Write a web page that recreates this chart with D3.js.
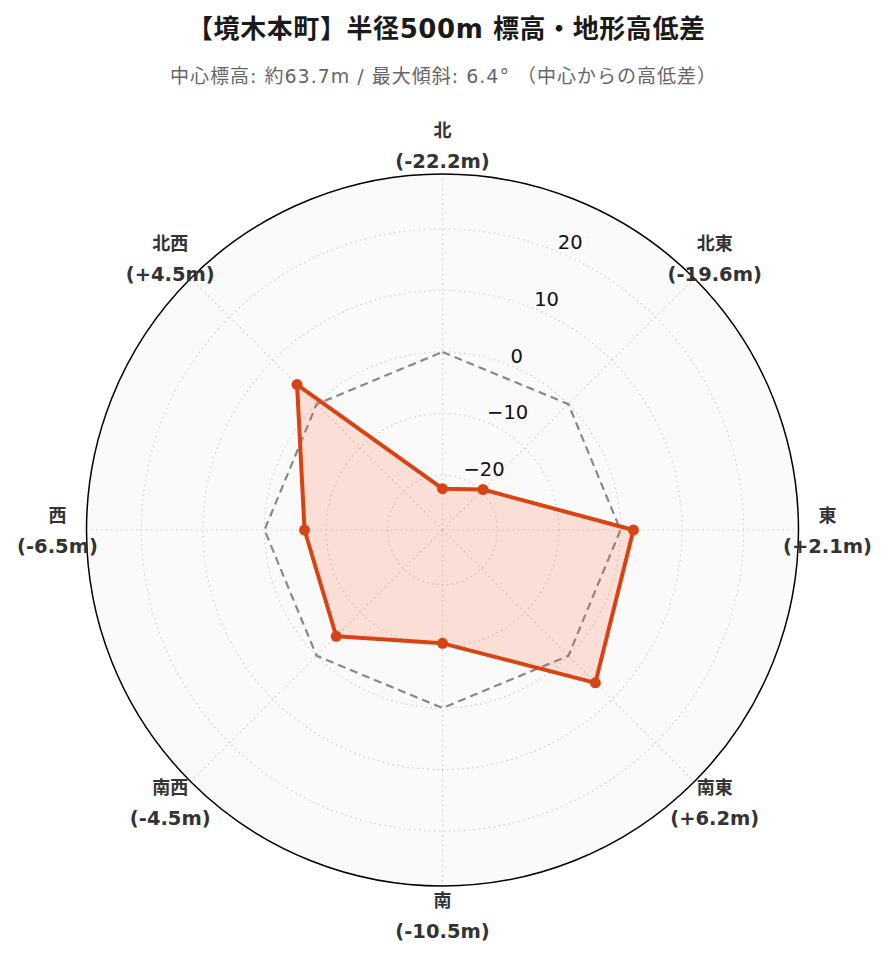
<!DOCTYPE html>
<html><head><meta charset="utf-8">
<script src="https://cdn.jsdelivr.net/npm/d3@7"></script>
<style>
html,body{margin:0;padding:0;background:#fff;}
svg{display:block;font-family:"DejaVu Sans","Noto Sans CJK JP",sans-serif;}
</style></head>
<body>
<svg id="chart" width="889" height="962"></svg>
<script>
const directions = ["北","北東","東","南東","南","南西","西","北西"];
const diffs = [-22.2, -19.6, 2.1, 6.2, -10.5, -4.5, -6.5, 4.5];
const refValues = [0, 0, 0, 0, 0, 0, 0, 0];
const radialTicks = [-20, -10, 0, 10, 20];
const radialDomain = [-28.9, 28.9];
const titleText = "【境木本町】半径500m 標高・地形高低差";
const subtitleText = "中心標高: 約63.7m / 最大傾斜: 6.4° （中心からの高低差）";

const svg = d3.select("#chart");
const cx = 442.5, cy = 530, R = 356;
const r = d3.scaleLinear().domain(radialDomain).range([0, R]);
const ang = d3.scaleLinear().domain([0, directions.length]).range([0, 2*Math.PI]);

svg.append("text").attr("x", 446).attr("y", 38).attr("text-anchor","middle")
  .attr("font-size", 26).attr("font-weight","bold").attr("fill","#1a1a1a")
  .attr("textLength", 518).attr("lengthAdjust","spacing").text(titleText);
svg.append("text").attr("x", 443).attr("y", 83).attr("text-anchor","middle")
  .attr("font-size", 19).attr("fill","#666")
  .attr("textLength", 546).attr("lengthAdjust","spacing").text(subtitleText);

const g = svg.append("g").attr("transform", `translate(${cx},${cy})`);
g.append("circle").attr("r", R).attr("fill", "#fafafa");

g.selectAll("circle.grid").data(radialTicks).join("circle").attr("class","grid")
  .attr("r", d => r(d)).attr("fill","none").attr("stroke","#cfcfcf")
  .attr("stroke-width",1.2).attr("stroke-dasharray","1.5,3.5");
g.selectAll("line.spoke").data(directions).join("line").attr("class","spoke")
  .attr("x1",0).attr("y1",0)
  .attr("x2",(d,i)=>R*Math.sin(ang(i))).attr("y2",(d,i)=>-R*Math.cos(ang(i)))
  .attr("stroke","#cfcfcf").attr("stroke-width",1.2).attr("stroke-dasharray","1.5,3.5");

g.append("circle").attr("r", R).attr("fill","none").attr("stroke","#000").attr("stroke-width",1.5);

const la = Math.PI/8;
g.selectAll("text.rt").data(radialTicks).join("text").attr("class","rt")
  .attr("x", d => r(d)*Math.sin(la)).attr("y", d => -r(d)*Math.cos(la) - 3)
  .attr("text-anchor","start").attr("font-size",19.5).attr("fill","#111")
  .text(d => d < 0 ? "\u2212" + Math.abs(d) : String(d));

const radial = d3.lineRadial().angle((d,i)=>ang(i)).radius(d=>r(d)).curve(d3.curveLinearClosed);
g.append("path").attr("d", radial(refValues)).attr("fill","none")
  .attr("stroke","#888").attr("stroke-width",2.2).attr("stroke-dasharray","8,5");

g.append("path").attr("d", radial(diffs)).attr("fill","#ff5722").attr("fill-opacity",0.17)
  .attr("stroke","#d84315").attr("stroke-width",4).attr("stroke-linejoin","round");
g.selectAll("circle.pt").data(diffs).join("circle").attr("class","pt")
  .attr("cx",(d,i)=>r(d)*Math.sin(ang(i))).attr("cy",(d,i)=>-r(d)*Math.cos(ang(i)))
  .attr("r",5.5).attr("fill","#d84315");

const LR = 385;
const lab = g.selectAll("g.lab").data(directions).join("g").attr("class","lab")
  .attr("transform",(d,i)=>`translate(${LR*Math.sin(ang(i))},${-LR*Math.cos(ang(i))})`);
lab.append("text").attr("y",-8).attr("text-anchor","middle").attr("font-size",18)
  .attr("font-weight","bold").attr("fill","#333").text(d=>d);
lab.append("text").attr("y",23).attr("text-anchor","middle").attr("font-size",19.5)
  .attr("font-weight","bold").attr("fill","#333")
  .text((d,i)=>"(" + (diffs[i] > 0 ? "+" : "") + diffs[i].toFixed(1) + "m)");
</script>
</body></html>
